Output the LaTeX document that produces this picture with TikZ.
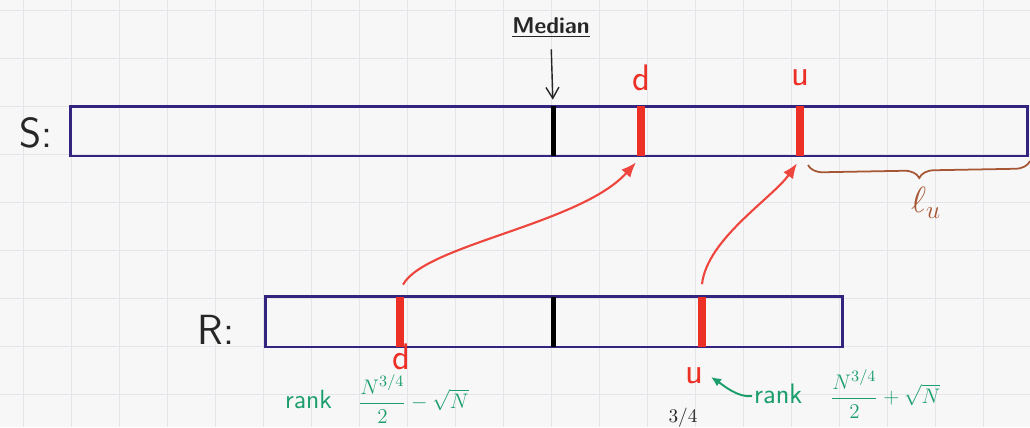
\documentclass[tikz,border=0pt]{standalone}
\usepackage{amsmath}
\definecolor{boxblue}{RGB}{52, 36, 128}
\definecolor{penred}{RGB}{236, 48, 38}
\definecolor{pengreen}{RGB}{28, 158, 108}
\definecolor{penbrown}{RGB}{166, 86, 50}
\definecolor{gridgray}{RGB}{228, 228, 233}
\definecolor{paper}{RGB}{247, 247, 248}
\usetikzlibrary{arrows.meta, decorations.pathreplacing}
\tikzset{
	gridline/.style={line width=0.5pt, draw=gridgray},
	strip/.style={rectangle, draw=boxblue, line width=1.7pt, inner sep=0pt},
	blacktick/.style={rectangle, fill=black, inner sep=0pt, minimum width=0.1cm, minimum height=1cm},
	redtick/.style={rectangle, fill=penred, inner sep=0pt, minimum width=0.15cm, minimum height=1cm},
	letter/.style={font=\fontsize{24}{26}\selectfont\sffamily, text=black!85},
	medlabel/.style={font=\fontsize{13}{15}\selectfont\sffamily\bfseries, text=black!85, inner sep=1pt},
	redlabel/.style={font=\fontsize{21}{23}\selectfont\sffamily, text=penred, inner sep=1pt},
	greentext/.style={font=\fontsize{15}{17}\selectfont\sffamily, text=pengreen, inner sep=1pt},
	brownlabel/.style={font=\fontsize{22}{24}\selectfont, text=penbrown, inner sep=1pt},
	medarrow/.style={-{Straight Barb[length=2.2mm, width=2.6mm]}, line width=0.8pt, draw=black!85},
	redarrow/.style={-{Latex[length=3mm, width=2.4mm]}, line width=1.2pt, draw=penred!90},
	greenarrow/.style={-{Latex[length=2mm, width=1.8mm]}, line width=1.1pt, draw=pengreen},
	bracebrown/.style={decorate, decoration={brace, mirror, amplitude=0.3cm}, line width=1pt, draw=penbrown},
}
\newcommand{\rankfrac}[1]{{\fontsize{13}{15}\selectfont$\dfrac{N^{3/4}}{2}#1\sqrt{N}$}}
\begin{document}
\begin{tikzpicture}[x=0.02cm, y=-0.02cm]
	\useasboundingbox (0,0) rectangle (1030,427);
	\fill[paper] (0,0) rectangle (1030,427);
	\foreach \gx in {23,71,...,1031}
		\draw[gridline] (\gx,0) -- (\gx,427);
	\foreach \gy in {10,58,...,394}
		\draw[gridline] (0,\gy) -- (1030,\gy);
	% the two sets
	\node[strip, minimum width=19.16cm, minimum height=1cm] (S) at (549,131) {};
	\node[strip, minimum width=11.56cm, minimum height=1.02cm] (R) at (554,321.5) {};
	\node[letter] (Slab) at (36,133) {S:};
	\node[letter] (Rlab) at (216,330) {R:};
	% splitters
	\node[blacktick] (Smed) at (553,131) {};
	\node[redtick] (Sd) at (641,131) {};
	\node[redtick] (Su) at (800,131) {};
	\node[blacktick] (Rmed) at (553,321.5) {};
	\node[redtick] (Rd) at (400,321.5) {};
	\node[redtick] (Ru) at (702,321.5) {};
	\node[medlabel] (med) at (551,28) {\underline{Median}};
	\draw[medarrow, shorten <=0.18cm, shorten >=0.12cm] (med.south) -- (Smed.north);
	\node[redlabel] (Sdlab) at (641,78) {d};
	\node[redlabel] (Sulab) at (800,78) {u};
	\node[redlabel] (Rdlab) at (401,357) {d};
	\node[redlabel] (Rulab) at (694,376) {u};
	\draw[redarrow] ([shift={(0.06cm,0.23cm)}]Rd.north) .. controls +(22,-40) and +(-56,62) .. ([shift={(-0.1cm,-0.12cm)}]Sd.south);
	\draw[redarrow] ([yshift=0.24cm]Ru.north) .. controls +(5,-45) and +(-25,35) .. ([shift={(-0.06cm,-0.14cm)}]Su.south);
	% ranks
	\node[greentext, anchor=west] (rankd) at (283,399) {rank\quad\rankfrac{-}};
	\node[greentext, anchor=west, font=\fontsize{16}{18}\selectfont\sffamily] (ranku) at (752,394) {rank\quad\rankfrac{+}};
	\coordinate (utip) at (711,377);
	\draw[greenarrow] ([yshift=-0.04cm]ranku.west) .. controls +(-14,2) and +(12,8) .. (utip);
	% upper part size
	\coordinate (lu0) at (808,165);
	\coordinate (lu1) at (1030,161);
	\draw[bracebrown] (lu0) -- (lu1);
	\node[brownlabel] (lu) at (926,203) {$\ell_u$};
	\node[font=\fontsize{11}{13}\selectfont, text=black!85] (cut) at (683,418) {$3/4$};
\end{tikzpicture}
\end{document}
